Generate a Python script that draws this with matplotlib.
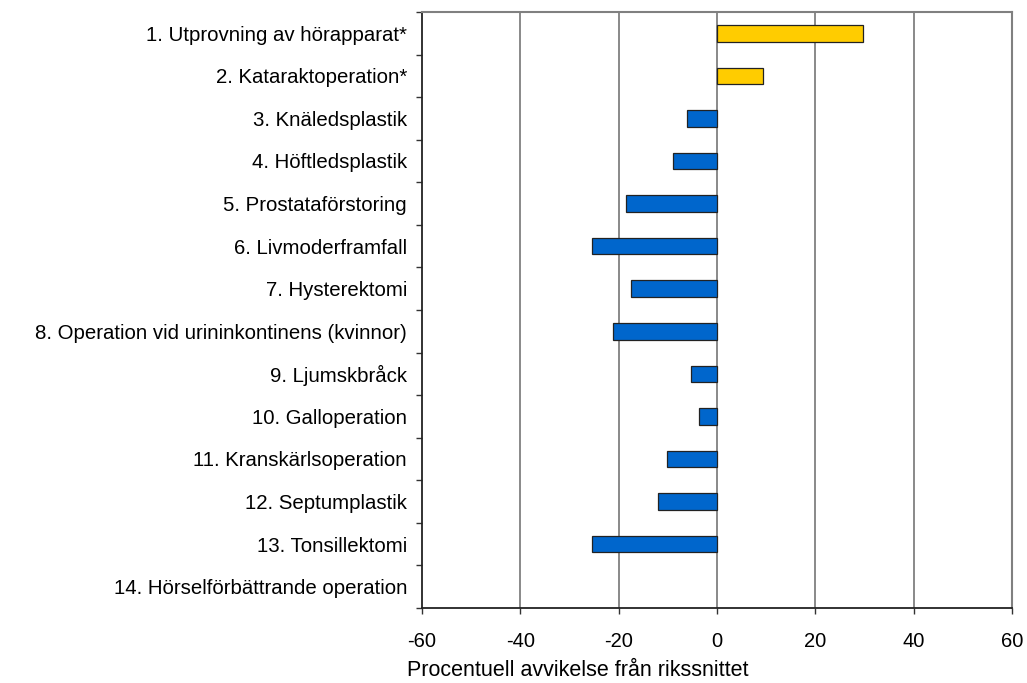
import matplotlib
matplotlib.use("Agg")
import matplotlib.pyplot as plt

categories = [
    "1. Utprovning av hörapparat*",
    "2. Kataraktoperation*",
    "3. Knäledsplastik",
    "4. Höftledsplastik",
    "5. Prostataförstoring",
    "6. Livmoderframfall",
    "7. Hysterektomi",
    "8. Operation vid urininkontinens (kvinnor)",
    "9. Ljumskbråck",
    "10. Galloperation",
    "11. Kranskärlsoperation",
    "12. Septumplastik",
    "13. Tonsillektomi",
    "14. Hörselförbättrande operation",
]
values = [29.6, 9.3, -6.1, -8.9, -18.6, -25.5, -17.4, -21.1, -5.3, -3.6, -10.1, -12.1, -25.5, 0.0]
highlight = [True, True] + [False] * 12
x_ticks = [-60, -40, -20, 0, 20, 40, 60]
xlabel = "Procentuell avvikelse från rikssnittet"

plt.rcParams['font.family'] = ['Liberation Sans', 'DejaVu Sans']

fig = plt.figure(figsize=(10.27, 6.83), dpi=100)
ax = fig.add_axes([422/1027, 1 - 608/683, (1012-422)/1027, (608-12)/683])

n = len(categories)
ypos = list(range(n))
colors = ["#FFCC00" if h else "#0066CC" for h in highlight]
for y, v, c in zip(ypos, values, colors):
    if v != 0:
        ax.barh(y, v, height=0.39, color=c, edgecolor="#222222", linewidth=0.9, zorder=3)

ax.set_xlim(-60, 60)
ax.set_ylim(n - 0.5, -0.5)
ax.set_xticks(x_ticks)
ax.set_xticklabels([str(t) for t in x_ticks], fontsize=14.5)
for t in [-40, -20, 0, 20, 40]:
    ax.axvline(t, color="#808080", linewidth=1.3, zorder=1)

ax.set_yticks(ypos)
ax.set_yticklabels(categories, fontsize=14.7)
ax.tick_params(axis='y', which='major', length=0, pad=10.8)
ax.set_yticks([i - 0.5 for i in range(n + 1)], minor=True)
ax.tick_params(axis='y', which='minor', length=4.5, width=1, color="#333333", direction='out')
ax.tick_params(axis='x', length=4, width=1, color="#333333", direction='out', pad=13.5)

for s in ['top', 'right']:
    ax.spines[s].set_color("#808080")
    ax.spines[s].set_linewidth(1.5)
for s in ['left', 'bottom']:
    ax.spines[s].set_color("#222222")
    ax.spines[s].set_linewidth(1.3)

fig.text(578/1027, 1 - 670/683, xlabel, ha='center', va='center', fontsize=15.5)

fig.savefig("out.png", dpi=100)
